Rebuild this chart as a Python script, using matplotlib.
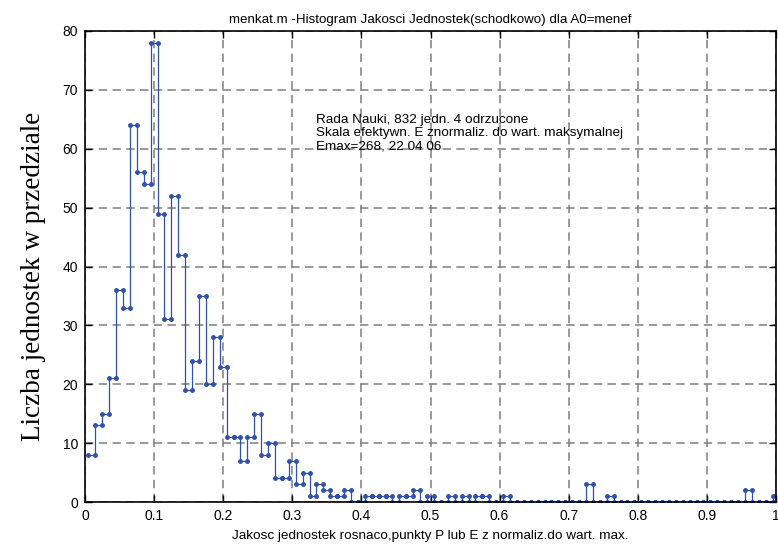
import numpy as np
import matplotlib
matplotlib.use("Agg")
import matplotlib.pyplot as plt
from matplotlib import rcParams

rcParams["font.family"] = "Liberation Sans"

BLUE = "#3050b0"
GRID = "#7f7f7f"

# histogram: counts per bin, bins of width 0.01, points drawn at bin centres
bin_start = 0.005
bin_width = 0.01
counts = [8, 13, 15, 21, 36, 33, 64, 56, 54, 78,
          49, 31, 52, 42, 19, 24, 35, 20, 28, 23,
          11, 11, 7, 11, 15, 8, 10, 4, 4, 7,
          3, 5, 1, 3, 2, 1, 1, 2, 0, 0,
          1, 1, 1, 1, 0, 1, 1, 2, 0, 1,
          0, 0, 1, 0, 1, 0, 1, 1, 0, 0,
          1, 0, 0, 0, 0, 0, 0, 0, 0, 0,
          0, 0, 3, 0, 0, 1, 0, 0, 0, 0,
          0, 0, 0, 0, 0, 0, 0, 0, 0, 0,
          0, 0, 0, 0, 0, 2, 0, 0, 0, 1]
xticks = [0, 0.1, 0.2, 0.3, 0.4, 0.5, 0.6, 0.7, 0.8, 0.9, 1]
xticklabels = ["0", "0.1", "0.2", "0.3", "0.4", "0.5", "0.6", "0.7", "0.8", "0.9", "1"]
yticks = [0, 10, 20, 30, 40, 50, 60, 70, 80]

y = np.array(counts, dtype=float)
x = bin_start + bin_width * np.arange(len(y))

# old-style matlab stairs: every vertex gets a marker
xx = np.repeat(x, 2)[1:]
yy = np.repeat(y, 2)[:-1]

fig = plt.figure(figsize=(7.78, 5.44), dpi=100)
ax = fig.add_axes([85/778, 42/544, 691/778, 471/544])

ax.plot(xx, yy, "-", color=BLUE, lw=0.9, marker=".", ms=5, mec=BLUE, mfc=BLUE)

ax.set_xlim(0, 1)
ax.set_ylim(0, 80)
ax.set_xticks(xticks)
ax.set_xticklabels(xticklabels)
ax.set_yticks(yticks)
ax.tick_params(direction="in", length=5, width=1, labelsize=10,
               top=True, right=True, pad=5)
ax.grid(True, color=GRID, lw=1.1, linestyle=(0, (5.5, 3.5)))
for s in ax.spines.values():
    s.set_linewidth(1.2)
    s.set_color("black")

ax.text(0.334, 62.7,
        "Rada Nauki, 832 jedn. 4 odrzucone\n"
        "Skala efektywn. E znormaliz. do wart. maksymalnej\n"
        "Emax=268, 22 04 06",
        fontsize=9.7, va="center", ha="left", linespacing=1.13)

ax.set_title("menkat.m -Histogram Jakosci Jednostek(schodkowo) dla A0=menef",
             fontsize=9.6, pad=6)
ax.set_xlabel("Jakosc jednostek rosnaco,punkty P lub E z normaliz.do wart. max.",
              fontsize=9.7, labelpad=5)
ax.set_ylabel("Liczba jednostek w przedziale", family="Liberation Serif",
              fontsize=19.5)
ax.yaxis.set_label_coords(-0.056, 0.478)

fig.savefig("out.png", dpi=100, facecolor="white")
